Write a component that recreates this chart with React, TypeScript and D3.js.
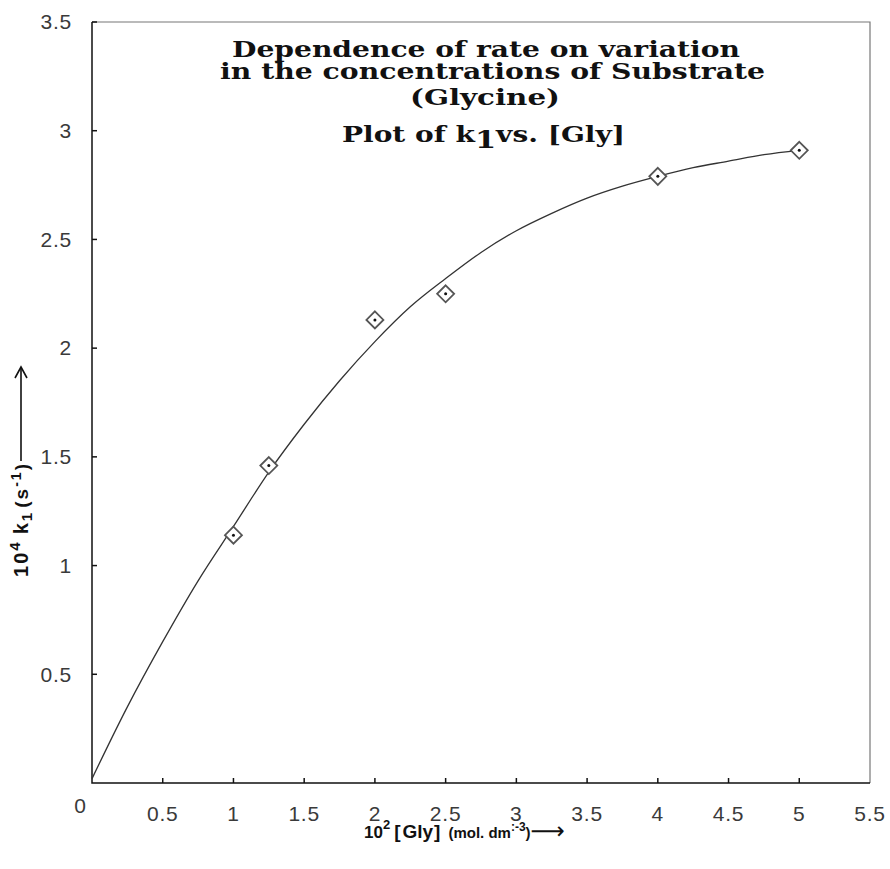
import React from "react";
import * as d3 from "d3";

// measured points: 10^2 [Gly] vs 10^4 k1
const gly = [1, 1.25, 2, 2.5, 4, 5];
const k1 = [1.14, 1.46, 2.13, 2.25, 2.79, 2.91];

// fitted curve
const fitX = [0, 0.25, 0.5, 0.75, 1, 1.25, 1.5, 1.75, 2, 2.25, 2.5, 2.75, 3, 3.25, 3.5, 3.75, 4, 4.25, 4.5, 4.75, 5];
const fitY = [0.02, 0.35, 0.65, 0.93, 1.18, 1.43, 1.65, 1.85, 2.03, 2.19, 2.32, 2.44, 2.54, 2.62, 2.69, 2.745, 2.79, 2.83, 2.86, 2.89, 2.91];

const xTicks = [0.5, 1, 1.5, 2, 2.5, 3, 3.5, 4, 4.5, 5, 5.5];
const yTicks = [0.5, 1, 1.5, 2, 2.5, 3, 3.5];

const titleLines = [
  "Dependence of rate on variation",
  "in the concentrations of Substrate",
  "(Glycine)",
];

const width = 890;
const height = 869;
const plot = { left: 92, right: 870, top: 22, bottom: 783 };

const App = () => {
  const x = d3.scaleLinear().domain([0, 5.5]).range([plot.left, plot.right]);
  const y = d3.scaleLinear().domain([0, 3.5]).range([plot.bottom, plot.top]);

  const line = d3
    .line<number>()
    .x((d) => x(d))
    .y((d, i) => y(fitY[i]))
    .curve(d3.curveMonotoneX);

  const titleFont = "'DejaVu Serif', 'Liberation Serif', serif";
  const sans = "Arial, 'Liberation Sans', sans-serif";
  const titlePos = [
    { x: 232, y: 57, len: 508 },
    { x: 220, y: 79, len: 545 },
    { x: 410, y: 105, len: 150 },
  ];

  return (
    <svg
      width={width}
      height={height}
      style={{ position: "absolute", left: 0, top: 0, background: "#fff" }}
    >
      {/* frame */}
      <path
        d={`M${plot.left},${plot.top}H${plot.right}V${plot.bottom}`}
        fill="none"
        stroke="#777"
        strokeWidth={1.2}
      />
      <path
        d={`M${plot.left},${plot.top}V${plot.bottom}H${plot.right}`}
        fill="none"
        stroke="#111"
        strokeWidth={1.5}
      />

      {/* y ticks */}
      {yTicks.map((t) => (
        <g key={"y" + t}>
          <line x1={plot.left} x2={plot.left + 5} y1={y(t)} y2={y(t)} stroke="#111" strokeWidth={1.5} />
          <text
            x={72}
            y={y(t)}
            dy="0.35em"
            textAnchor="end"
            fontFamily={sans}
            fontSize={21}
            fill="#3a3a3a"
            letterSpacing={0.8}
          >
            {t}
          </text>
        </g>
      ))}
      <text x={80} y={806} dy="0.35em" textAnchor="middle" fontFamily={sans} fontSize={21} fill="#3a3a3a">
        0
      </text>

      {/* x ticks */}
      {xTicks.map((t) => (
        <g key={"x" + t}>
          {t < 5.5 && (
            <line x1={x(t)} x2={x(t)} y1={plot.bottom} y2={plot.bottom - 5} stroke="#111" strokeWidth={1.5} />
          )}
          <text
            x={x(t)}
            y={814}
            dy="0.35em"
            textAnchor="middle"
            fontFamily={sans}
            fontSize={21}
            fill="#3a3a3a"
            letterSpacing={0.8}
          >
            {t}
          </text>
        </g>
      ))}

      {/* fitted curve */}
      <path d={line(fitX) || ""} fill="none" stroke="#333" strokeWidth={1.3} />

      {/* points */}
      {gly.map((g, i) => {
        const cx = x(g);
        const cy = y(k1[i]);
        const r = 8.5;
        return (
          <g key={"p" + i}>
            <path
              d={`M${cx},${cy - r}L${cx + r},${cy}L${cx},${cy + r}L${cx - r},${cy}Z`}
              fill="#fff"
              stroke="#555"
              strokeWidth={1.8}
            />
            <circle cx={cx} cy={cy} r={1.5} fill="#111" />
          </g>
        );
      })}

      {/* title */}
      {titleLines.map((s, i) => (
        <text
          key={"t" + i}
          x={titlePos[i].x}
          y={titlePos[i].y}
          fontFamily={titleFont}
          fontWeight="bold"
          fontSize={23}
          fill="#111"
          textLength={titlePos[i].len}
          lengthAdjust="spacingAndGlyphs"
        >
          {s}
        </text>
      ))}
      <text
        x={342}
        y={142}
        fontFamily={titleFont}
        fontWeight="bold"
        fontSize={23}
        fill="#111"
        textLength={283}
        lengthAdjust="spacingAndGlyphs"
      >
        Plot of k
        <tspan fontSize={25} dy={6}>1</tspan>
        <tspan dy={-6}>vs. [Gly]</tspan>
      </text>

      {/* x axis title */}
      <text x={364} y={838} fontFamily={sans} fontWeight="bold" fill="#111">
        <tspan fontSize={17}>10</tspan>
        <tspan fontSize={13} dy={-9}>2</tspan>
        <tspan fontSize={19} dy={9} dx={4}>[</tspan>
        <tspan fontSize={19} dx={2}>Gly</tspan>
        <tspan fontSize={19} dx={1}>]</tspan>
        <tspan fontSize={15} dx={8}>(mol. dm</tspan>
        <tspan fontSize={12} dy={-7}>:-3</tspan>
        <tspan fontSize={15} dy={7}>)</tspan>
        <tspan fontSize={24} fontFamily="'DejaVu Sans', sans-serif" fontWeight="normal" dy={1}>⟶</tspan>
      </text>

      {/* y axis title */}
      <g transform="translate(28,577) rotate(-90)">
        <text x={0} y={0} fontFamily={sans} fontWeight="bold" fill="#111" textLength={113} lengthAdjust="spacing">
          <tspan fontSize={20}>10</tspan>
          <tspan fontSize={15} dy={-8}>4</tspan>
          <tspan fontSize={20} dy={8} dx={6}>k</tspan>
          <tspan fontSize={15} dy={4}>1</tspan>
          <tspan fontSize={19} dy={-4} dx={3}>(s</tspan>
          <tspan fontSize={14} dy={-7}>-1</tspan>
          <tspan fontSize={19} dy={7}>)</tspan>
        </text>
      </g>
      <path d="M21,461V368" stroke="#111" strokeWidth={1.6} fill="none" />
      <path d="M15,378L21,367L27,378" stroke="#111" strokeWidth={1.6} fill="none" />
    </svg>
  );
};

export default App;
